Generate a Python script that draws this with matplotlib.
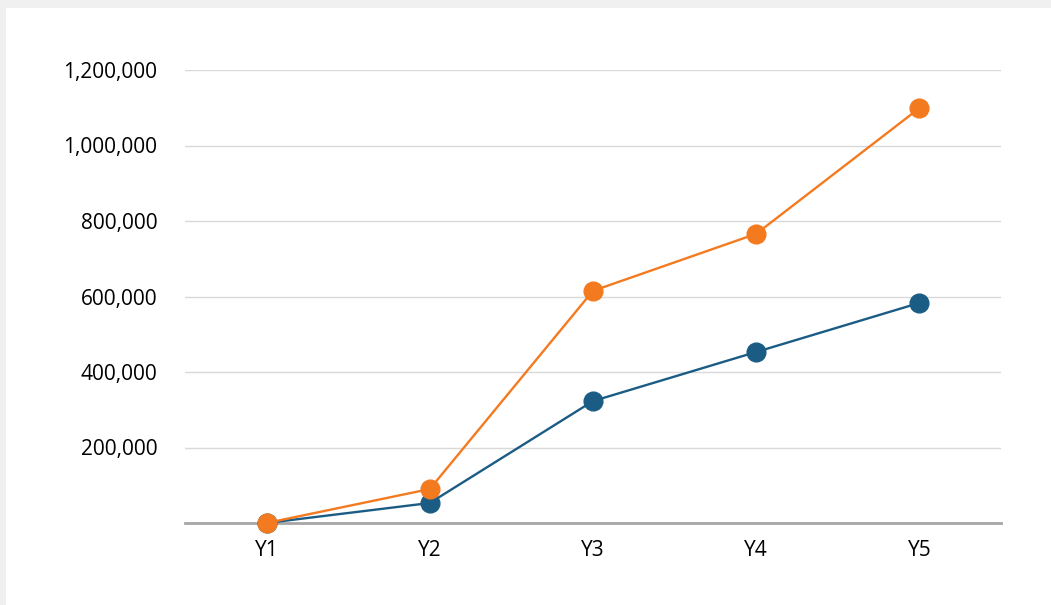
import matplotlib.pyplot as plt
from matplotlib.patches import Rectangle
from matplotlib.ticker import FuncFormatter

categories = ['Y1', 'Y2', 'Y3', 'Y4', 'Y5']
series_blue = [0, 53000, 323000, 453000, 583000]
series_orange = [0, 90000, 615000, 766000, 1099000]
y_ticks = [200000, 400000, 600000, 800000, 1000000, 1200000]

plt.rcParams['font.family'] = ['Open Sans', 'DejaVu Sans']

fig = plt.figure(figsize=(10.51, 6.05), dpi=100)
fig.patch.set_facecolor('#f0f0f0')
# white card inside the grey frame
fig.patches.append(Rectangle((6 / 1051, 0), 1 - 6 / 1051, 1 - 8 / 605,
                             transform=fig.transFigure, facecolor='white',
                             edgecolor='none', zorder=-10))

ax = fig.add_axes([185 / 1051, 1 - 523 / 605, (1001 - 185) / 1051, (523 - 70) / 605])
ax.set_facecolor('none')
ax.set_zorder(1)

x = list(range(len(categories)))
ax.plot(x, series_blue, '-o', color='#1b5c85', linewidth=1.7, markersize=13.5,
        clip_on=False, zorder=3)
ax.plot(x, series_orange, '-o', color='#f47a20', linewidth=1.7, markersize=13.5,
        clip_on=False, zorder=4)

ax.set_xlim(-0.5, 4.5)
ax.set_ylim(0, 1200000)
ax.set_xticks(x)
ax.set_xticklabels(categories)
ax.set_yticks(y_ticks)
ax.yaxis.set_major_formatter(FuncFormatter(lambda v, p: f'{int(v):,}'))

ax.grid(axis='y', color='#d9d9d9', linewidth=1)
ax.set_axisbelow(True)
for s in ['top', 'right', 'left']:
    ax.spines[s].set_visible(False)
ax.spines['bottom'].set_color('#a6a6a6')
ax.spines['bottom'].set_linewidth(2)
ax.spines['bottom'].set_zorder(2)

ax.tick_params(axis='both', length=0, labelsize=15, colors='#000000')
ax.tick_params(axis='y', pad=20)
ax.tick_params(axis='x', pad=12)

fig.savefig('out.png', dpi=100)
